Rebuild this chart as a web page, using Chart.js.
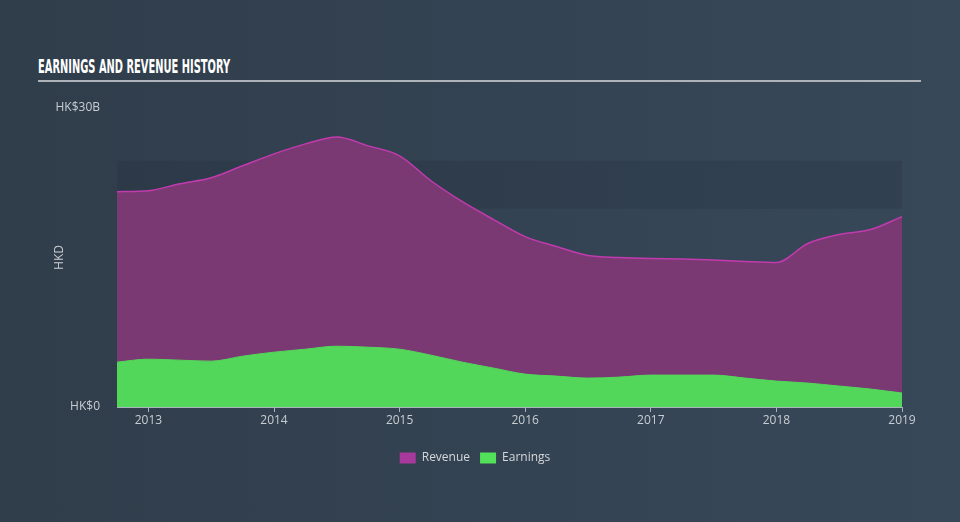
<!DOCTYPE html>
<html lang="en">
<head>
  <meta charset="UTF-8" />
  <title>Earnings and Revenue History</title>
  <script src="https://cdn.jsdelivr.net/npm/chart.js"></script>
  <style>
    html, body {
      margin: 0;
      padding: 0;
    }
    body {
      width: 960px;
      height: 522px;
      position: relative;
      overflow: hidden;
      background: linear-gradient(to right, #303d4b, #374859);
      font-family: "Open Sans", sans-serif;
    }
    #title {
      position: absolute;
      left: 38px;
      top: 57px;
      color: #ffffff;
      font-family: "Liberation Sans Narrow", "DejaVu Sans Condensed", sans-serif;
      font-weight: bold;
      font-size: 19px;
      line-height: 19px;
      white-space: nowrap;
      transform-origin: left top;
    }
    #rule {
      position: absolute;
      left: 38px;
      top: 80px;
      width: 883px;
      height: 2px;
      background: #aeb3b9;
    }
    canvas {
      position: absolute;
      left: 0;
      top: 0;
    }
  </style>
</head>
<body>
  <div id="title">EARNINGS AND REVENUE HISTORY</div>
  <div id="rule"></div>
  <canvas id="chart" width="960" height="522"></canvas>

  <script>
    // quarterly points, as decimal years
    const quarters = [2012.75, 2013, 2013.25, 2013.5, 2013.75, 2014, 2014.25, 2014.5, 2014.75,
                      2015, 2015.25, 2015.5, 2015.75, 2016, 2016.25, 2016.5, 2016.75,
                      2017, 2017.25, 2017.5, 2017.75, 2018, 2018.25, 2018.5, 2018.75, 2019];
    // HK$ billions
    const revenue = [21.6, 21.7, 22.4, 23.0, 24.2, 25.4, 26.4, 27.1, 26.2,
                     25.2, 22.7, 20.6, 18.8, 17.1, 16.1, 15.2, 15.0,
                     14.9, 14.85, 14.75, 14.6, 14.5, 16.4, 17.3, 17.8, 19.1];
    const earnings = [4.5, 4.8, 4.7, 4.6, 5.1, 5.5, 5.8, 6.1, 6.0,
                      5.8, 5.2, 4.5, 3.9, 3.3, 3.1, 2.9, 3.0,
                      3.2, 3.2, 3.2, 2.9, 2.6, 2.4, 2.1, 1.8, 1.4];
    const yearTicks = [2013, 2014, 2015, 2016, 2017, 2018, 2019];
    const valueTicks = [0, 30];
    const bandRange = [19.9, 24.7];

    // squeeze the title to its width in the picture
    const title = document.getElementById('title');
    title.style.transform = 'scaleX(' + (192 / title.offsetWidth) + ')';

    const bandPlugin = {
      id: 'band',
      beforeDatasetsDraw(chart) {
        const { ctx, chartArea, scales } = chart;
        const top = scales.y.getPixelForValue(bandRange[1]);
        const bottom = scales.y.getPixelForValue(bandRange[0]);
        ctx.save();
        ctx.fillStyle = 'rgba(30, 42, 54, 0.2)';
        ctx.fillRect(chartArea.left, top, chartArea.right - chartArea.left, bottom - top);
        ctx.restore();
      }
    };

    const legendColors = ['#a8399c', '#53e05a'];

    const ctx = document.getElementById('chart').getContext('2d');
    new Chart(ctx, {
      type: 'line',
      data: {
        labels: quarters,
        datasets: [
          {
            label: 'Revenue',
            data: quarters.map((q, i) => ({ x: q, y: revenue[i] })),
            borderColor: '#c23bae',
            borderWidth: 1.5,
            backgroundColor: '#7b3974',
            fill: 'origin',
            pointRadius: 0,
            cubicInterpolationMode: 'monotone',
            order: 1
          },
          {
            label: 'Earnings',
            data: quarters.map((q, i) => ({ x: q, y: earnings[i] })),
            borderColor: '#53d75a',
            borderWidth: 1,
            backgroundColor: '#53d75a',
            fill: 'origin',
            pointRadius: 0,
            cubicInterpolationMode: 'monotone',
            order: 0
          }
        ]
      },
      options: {
        responsive: false,
        animation: false,
        layout: {
          padding: { top: 108, left: 48, right: 58, bottom: 48 }
        },
        scales: {
          x: {
            type: 'linear',
            min: quarters[0],
            max: quarters[quarters.length - 1],
            afterBuildTicks: s => { s.ticks = yearTicks.map(v => ({ value: v })); },
            afterFit: s => { s.height = 35; },
            grid: {
              display: true,
              drawOnChartArea: false,
              drawTicks: true,
              tickLength: 5,
              color: '#aab3bd'
            },
            border: { display: true, color: '#aab3bd', width: 1 },
            ticks: {
              color: '#c9cdd2',
              font: { family: 'Open Sans', size: 12 },
              padding: 1,
              maxRotation: 0,
              callback: v => String(v)
            }
          },
          y: {
            min: 0,
            max: 30,
            afterBuildTicks: s => { s.ticks = valueTicks.map(v => ({ value: v })); },
            afterFit: s => { s.width = 69; },
            grid: { display: false },
            border: { display: false },
            ticks: {
              color: '#c9cdd2',
              font: { family: 'Open Sans', size: 12 },
              padding: 9,
              callback: v => v === 0 ? 'HK$0' : 'HK$' + v + 'B'
            },
            title: {
              display: true,
              text: 'HKD',
              color: '#c9cdd2',
              font: { family: 'Open Sans', size: 12 },
              padding: 4
            }
          }
        },
        plugins: {
          tooltip: { enabled: false },
          legend: {
            position: 'bottom',
            labels: {
              color: '#d4d7db',
              font: { family: 'Open Sans', size: 12 },
              boxWidth: 16,
              boxHeight: 11,
              padding: 10,
              sort: (a, b) => a.datasetIndex - b.datasetIndex,
              generateLabels: chart => {
                const items = Chart.defaults.plugins.legend.labels.generateLabels(chart);
                items.forEach(item => {
                  item.fillStyle = legendColors[item.datasetIndex];
                  item.strokeStyle = legendColors[item.datasetIndex];
                  item.lineWidth = 0;
                });
                return items;
              }
            }
          }
        }
      },
      plugins: [bandPlugin]
    });
  </script>
</body>
</html>
